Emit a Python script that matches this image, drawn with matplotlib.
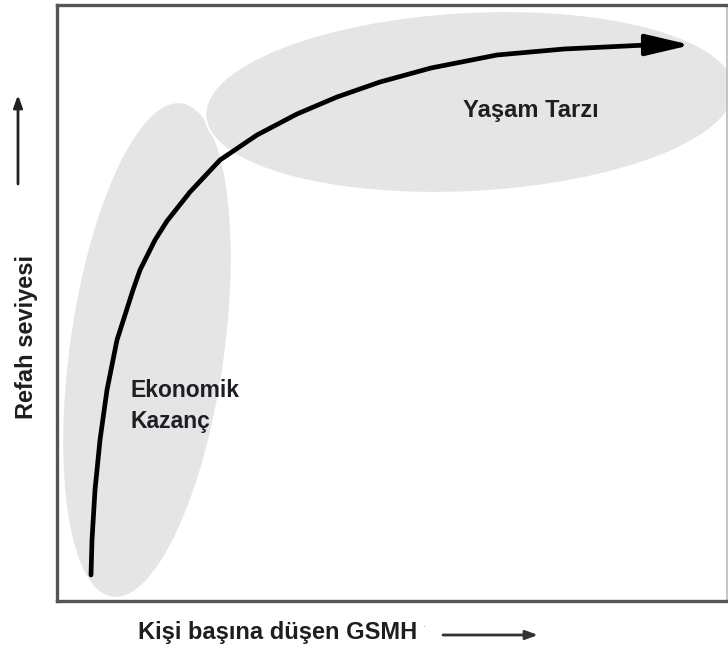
import matplotlib
matplotlib.use("Agg")
import matplotlib.pyplot as plt
from matplotlib.patches import Ellipse

plt.rcParams['font.family'] = ['Liberation Sans', 'DejaVu Sans']

# growth curve: GSMH (x) vs welfare level (y), in box units
gsmh = [34, 35, 38, 43, 50, 60, 76, 83, 98, 110, 133, 163, 200, 240, 280, 323, 374, 440, 507, 590]
refah = [26, 61, 111, 161, 211, 261, 311, 331, 361, 380, 409, 441, 466, 487, 504, 519, 533, 546, 552, 556]
tip = (634, 556)

# the two phases (center x, center y, width, height, angle)
phase_names = ['Ekonomik\nKazanç', 'Yaşam Tarzı']
phase_center = [(90, 251), (413, 499)]
phase_size = [(154, 498), (530, 180)]
phase_angle = [-8, 3]
label_pos = [(73, 195), (474, 491)]

W, H = 728, 649
fig = plt.figure(figsize=(W / 100, H / 100), dpi=100)
ax = fig.add_axes([57 / W, 48 / H, 670 / W, 596 / H])
ax.set_xlim(0, 670)
ax.set_ylim(0, 596)
ax.set_xticks([])
ax.set_yticks([])
for side in ['left', 'bottom', 'top']:
    ax.spines[side].set_linewidth(2.4)
    ax.spines[side].set_color('#555555')
ax.spines['right'].set_linewidth(1.2)
ax.spines['right'].set_color('#bbbbbb')

# phase blobs, second one over the first with a thin white rim
for i in range(2):
    e = Ellipse(phase_center[i], phase_size[i][0], phase_size[i][1], angle=phase_angle[i],
                facecolor='#e5e5e5', edgecolor='white' if i == 1 else 'none',
                lw=1.5, zorder=1 + i)
    ax.add_patch(e)

ax.plot(gsmh, refah, color='black', lw=3.4, solid_capstyle='round', solid_joinstyle='round', zorder=5)
ax.annotate('', xy=tip, xytext=(gsmh[-1], refah[-1]),
            arrowprops=dict(arrowstyle='-|>,head_length=0.55,head_width=0.13',
                            mutation_scale=50, color='black', lw=3.2, shrinkA=0, shrinkB=0),
            zorder=6)

ax.text(label_pos[0][0], label_pos[0][1], phase_names[0], fontsize=16.5, fontweight='bold',
        color='#1e1e24', ha='left', va='center', linespacing=1.4, zorder=7)
ax.text(label_pos[1][0], label_pos[1][1], phase_names[1], fontsize=17, fontweight='bold',
        color='#1e1e24', ha='center', va='center', zorder=7)

# axis titles with their little arrows
fig.text(27 / W, 1 - 337 / H, 'Refah seviyesi', rotation=90, fontsize=17, fontweight='bold',
         color='#1e1e1e', ha='center', va='center')
fig.text(278 / W, 1 - 633 / H, 'Kişi başına düşen GSMH', fontsize=17, fontweight='bold',
         color='#1e1e1e', ha='center', va='center')
fig.text(424 / W, 1 - 627 / H, '·', fontsize=7, color='#999999', ha='center', va='center')

ax.annotate('', xy=(18 / W, 1 - 95 / H), xytext=(18 / W, 1 - 184 / H), xycoords='figure fraction',
            arrowprops=dict(arrowstyle='-|>,head_length=0.6,head_width=0.22', mutation_scale=12,
                            color='#222222', lw=2, shrinkA=0, shrinkB=0), annotation_clip=False)
ax.annotate('', xy=(538 / W, 1 - 635 / H), xytext=(443 / W, 1 - 635 / H), xycoords='figure fraction',
            arrowprops=dict(arrowstyle='-|>,head_length=0.6,head_width=0.22', mutation_scale=12,
                            color='#333333', lw=2, shrinkA=0, shrinkB=0), annotation_clip=False)

fig.savefig('out.png', dpi=100)
